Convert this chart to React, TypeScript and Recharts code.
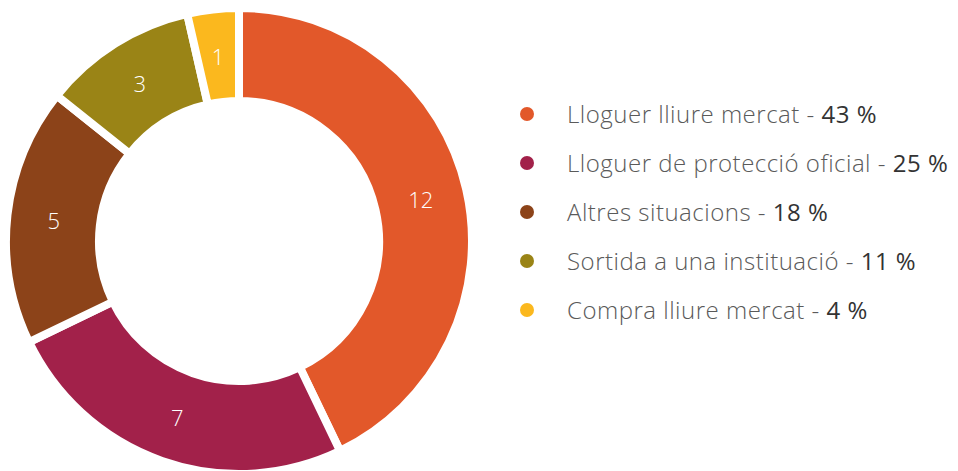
import React from "react";
import { PieChart, Pie, Cell } from "recharts";

const categories = [
  "Lloguer lliure mercat",
  "Lloguer de protecció oficial",
  "Altres situacions",
  "Sortida a una instituació",
  "Compra lliure mercat",
];
const values = [12, 7, 5, 3, 1];
const colors = ["#E2582A", "#A2214A", "#8C4319", "#9A8416", "#FBB81E"];

const total = values.reduce((a, b) => a + b, 0);
const data = categories.map((name, i) => ({ name, value: values[i] }));

const FONT = "'Open Sans', sans-serif";
const RAD = Math.PI / 180;

const renderLabel = (props: any) => {
  const { cx, cy, midAngle, innerRadius, outerRadius, value } = props;
  const r = (innerRadius + outerRadius) / 2;
  const x = cx + r * Math.cos(-midAngle * RAD);
  const y = cy + r * Math.sin(-midAngle * RAD);
  return (
    <text
      x={x}
      y={y}
      fill="#ffffff"
      textAnchor="middle"
      dominantBaseline="central"
      fontFamily={FONT}
      fontWeight={300}
      fontSize={22}
    >
      {value}
    </text>
  );
};

const LegendBlock = () => (
  <div
    style={{
      position: "absolute",
      left: 520,
      top: 89,
      fontFamily: FONT,
    }}
  >
    {data.map((d, i) => (
      <div
        key={d.name}
        style={{ display: "flex", alignItems: "center", height: 49 }}
      >
        <span
          style={{
            width: 14,
            height: 14,
            borderRadius: 7,
            background: colors[i],
            display: "inline-block",
            marginRight: 33,
            flexShrink: 0,
          }}
        />
        <span
          style={{
            fontSize: 24,
            color: "#5a5a5a",
            fontWeight: 300,
            whiteSpace: "nowrap",
            letterSpacing: 0.5,
          }}
        >
          {d.name} -{" "}
          <span style={{ color: "#333333", fontWeight: 400 }}>
            {Math.round((d.value / total) * 100)} %
          </span>
        </span>
      </div>
    ))}
  </div>
);

export default function App() {
  return (
    <div
      style={{
        position: "absolute",
        left: 0,
        top: 0,
        width: 958,
        height: 471,
        background: "#fff",
      }}
    >
      <PieChart
        width={958}
        height={471}
        margin={{ top: 0, right: 0, bottom: 0, left: 0 }}
      >
        <Pie
          data={data}
          dataKey="value"
          nameKey="name"
          cx={239}
          cy={241}
          innerRadius={140}
          outerRadius={233}
          startAngle={90}
          endAngle={-270}
          stroke="#ffffff"
          strokeWidth={8}
          label={renderLabel}
          labelLine={false}
          isAnimationActive={false}
        >
          {data.map((d, i) => (
            <Cell key={d.name} fill={colors[i]} />
          ))}
        </Pie>
      </PieChart>
      <LegendBlock />
    </div>
  );
}
